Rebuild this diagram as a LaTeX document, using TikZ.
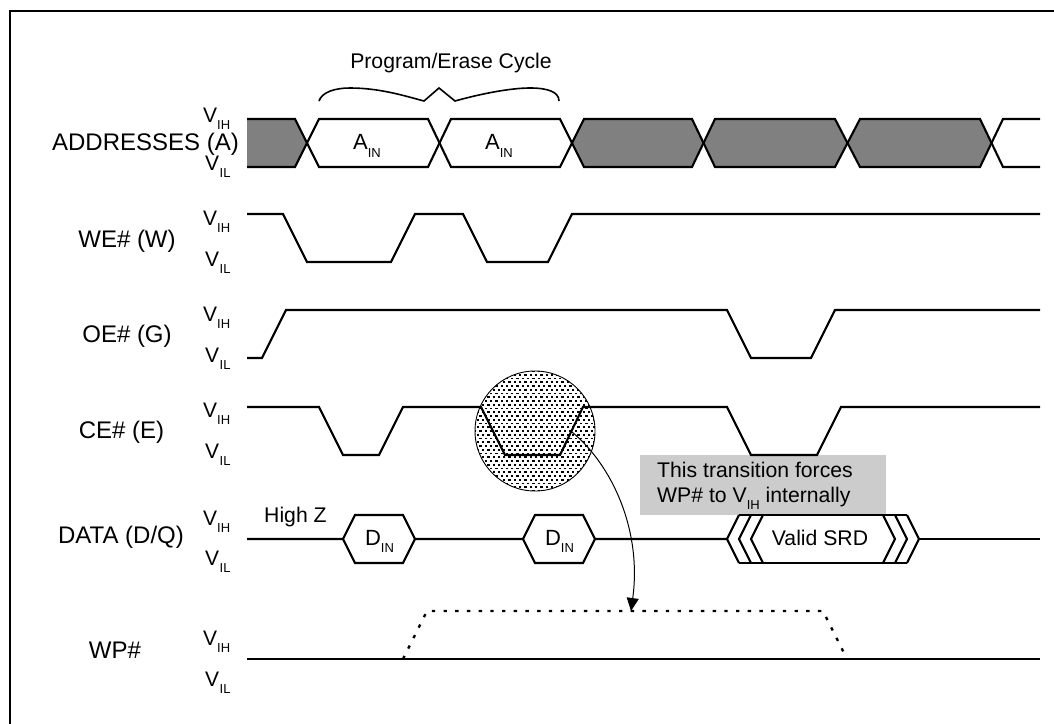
\documentclass[tikz,border=0pt]{standalone}
\usepackage{fontspec}
\setmainfont{Liberation Sans}
\usetikzlibrary{arrows.meta}
\newcommand{\fsz}[1]{\fontsize{#1}{#1}\selectfont}
\newcommand{\subt}[3]{#1\raisebox{-#3pt}{\fsz{13}#2}}
\newcommand{\vih}{\subt{V}{IH}{7}}
\newcommand{\vil}{\subt{V}{\hspace{0.5pt}IL}{7}}
\definecolor{busgray}{RGB}{128,128,128}
\definecolor{notegray}{RGB}{204,204,204}
\tikzset{
  sig/.style={draw=black,line width=2.1pt,line join=miter},
  lbl/.style={anchor=base,inner sep=0pt,font=\fsz{24}},
  lev/.style={anchor=base west,inner sep=0pt,font=\fsz{21}},
  txt/.style={anchor=base,inner sep=0pt,font=\fsz{21.2}},
  txtl/.style={anchor=base west,inner sep=0pt,font=\fsz{21.2}},
}
\begin{document}
\begin{tikzpicture}[x=1pt,y=-1pt]
\useasboundingbox (0,0) rectangle (1054,723);
\clip (0,0) rectangle (1054,723);
% frame: top and left only
\draw[line width=2pt] (10.3,740) -- (10.3,11.3) -- (1060,11.3);
% addresses
\fill[busgray] (247,119) -- (295,119) -- (307,143) -- (295,167) -- (247,167) -- cycle;
\fill[busgray] (572,143) -- (584,119) -- (692,119) -- (703.5,143) -- (692,167) -- (584,167) -- cycle;
\fill[busgray] (703.5,143) -- (715,119) -- (835,119) -- (847.5,143) -- (835,167) -- (715,167) -- cycle;
\fill[busgray] (847.5,143) -- (860,119) -- (980,119) -- (992,143) -- (980,167) -- (860,167) -- cycle;
\draw[sig] (247,119) -- (295,119) -- (319,167) -- (428,167) -- (451,119) -- (560,119) -- (584,167) -- (692,167) -- (715,119) -- (835,119) -- (860,167) -- (980,167) -- (1003,119) -- (1040,119);
\draw[sig] (247,167) -- (295,167) -- (319,119) -- (428,119) -- (451,167) -- (560,167) -- (584,119) -- (692,119) -- (715,167) -- (835,167) -- (860,119) -- (980,119) -- (1003,167) -- (1040,167);
% brace
\draw[line width=1.6pt] (319,101) .. controls (322,92) and (335,88) .. (350,88) .. controls (380,88) and (405,96) .. (424,101) -- (439,88) -- (455,101) .. controls (480,94) and (510,88) .. (530,88) .. controls (548,88) and (559,92) .. (559,101);
\node[txt] (cyc) at (451,68) {Program/Erase Cycle};
\node[lbl,font=\fsz{22}] (ain1) at (367,149) {\subt{A}{IN}{8}};
\node[lbl,font=\fsz{22}] (ain2) at (499,149) {\subt{A}{IN}{8}};
% WE
\draw[sig] (247,214) -- (283,214) -- (307,262) -- (391,262) -- (415,214) -- (463,214) -- (487,262) -- (548,262) -- (572,214) -- (1040,214);
% OE
\draw[sig] (247,358) -- (262,358) -- (286,310) -- (727,310) -- (751,358) -- (811,358) -- (835,310) -- (1040,310);
% stippled circle
\begin{scope}
\clip (535,431) circle (60);
\foreach \c in {0,...,24}{
  \foreach \r in {0,...,33}{
    \pgfmathsetmacro{\xx}{474+\c*5.3+mod(\r,2)*2.65}
    \pgfmathsetmacro{\yy}{370+\r*3.75}
    \fill[black] (\xx,\yy) rectangle ++(2.3,1.9);
  }
}
\end{scope}
\draw[line width=0.9pt] (535,431) circle (60);
% note box
\fill[notegray] (640,455) rectangle (886,515);
\node[txtl] (n1) at (657,477) {This transition forces};
\node[txtl] (n2) at (657,502) {WP\# to \subt{V}{IH}{7} internally};
% CE
\draw[sig] (247,407) -- (319,407) -- (343,455) -- (379,455) -- (403,407) -- (481,407) -- (505,455) -- (560,455) -- (583,407) -- (727,407) -- (751,455) -- (817,455) -- (841,407) -- (1040,407);
% data
\draw[sig] (247,539) -- (343,539) -- (355,515) -- (403,515) -- (415,539) -- (523,539) -- (535,515) -- (583,515) -- (595,539) -- (727,539);
\draw[sig] (343,539) -- (355,563) -- (403,563) -- (415,539);
\draw[sig] (523,539) -- (535,563) -- (583,563) -- (595,539);
\draw[sig] (919,539) -- (1040,539);
\draw[sig] (739,515) -- (895,515) (739,563) -- (895,563);
\foreach \d in {0,12,24}{
  \draw[sig] (739+\d,515) -- (727+\d,539) -- (739+\d,563);
  \draw[sig] (883+\d,515) -- (895+\d,539) -- (883+\d,563);
}
\draw[sig] (883,515) -- (907,515) (883,563) -- (907,563);
\node[txt] (srd) at (820,545) {Valid SRD};
\node[lbl,font=\fsz{22}] (din1) at (379.5,545) {\subt{D}{IN}{7}};
\node[lbl,font=\fsz{22}] (din2) at (559.5,545) {\subt{D}{IN}{7}};
\node[txtl] (hz) at (264,522) {High Z};
% WP
\draw[sig] (247,659) -- (1040,659);
\draw[line width=2.4pt,dash pattern=on 3.4pt off 8.3pt] (403,659) -- (427,611) -- (823,611) -- (847,659);
% arrow
\coordinate (from) at (572,432);
\coordinate (to) at (631,611);
\draw[line width=1pt,-{Triangle[length=13pt,width=12pt]}] (from) .. controls (612,465) and (642,530) .. (to);
% signal names
\node[lbl] (a) at (145.5,150) {ADDRESSES (A)};
\node[lbl] (w) at (127,247) {WE\# (W)};
\node[lbl] (g) at (127,342) {OE\# (G)};
\node[lbl] (e) at (121.5,438) {CE\# (E)};
\node[lbl] (d) at (121,543) {DATA (D/Q)};
\node[lbl] (p) at (115,658) {WP\#};
% levels
\node[lev] (l1) at (203,122) {\vih};
\node[lev] (l2) at (205,170) {\vil};
\node[lev] (l3) at (203,225) {\vih};
\node[lev] (l4) at (205,266) {\vil};
\node[lev] (l5) at (203,321) {\vih};
\node[lev] (l6) at (205,362) {\vil};
\node[lev] (l7) at (203,417) {\vih};
\node[lev] (l8) at (205,458) {\vil};
\node[lev] (l9) at (203,525) {\vih};
\node[lev] (l10) at (205,565) {\vil};
\node[lev] (l11) at (203,645) {\vih};
\node[lev] (l12) at (205,686) {\vil};
\end{tikzpicture}
\end{document}
